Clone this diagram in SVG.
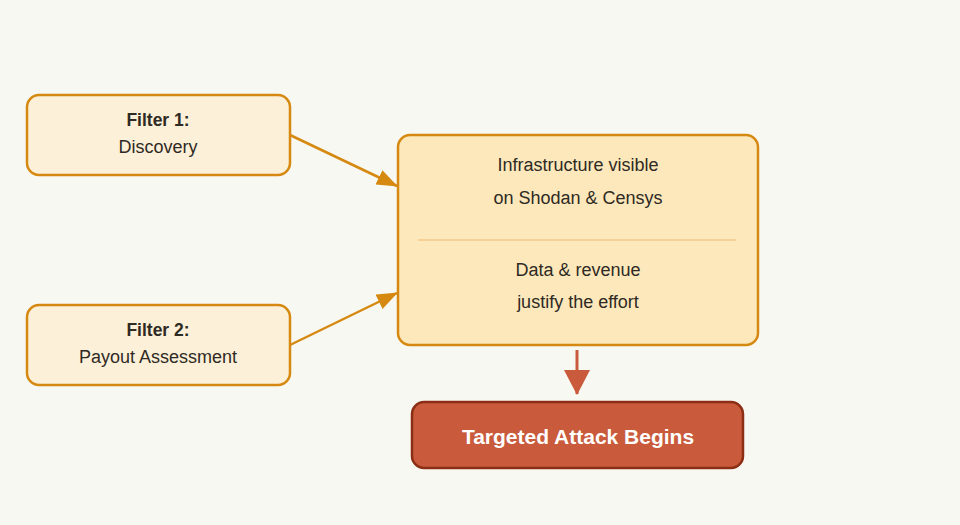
<svg xmlns="http://www.w3.org/2000/svg" width="960" height="525" viewBox="0 0 960 525">
<defs>
<marker id="ah" markerUnits="userSpaceOnUse" markerWidth="22" markerHeight="18" refX="20" refY="8" orient="auto">
<path d="M0,0 L21,8 L0,16 Z" fill="#d68910"/>
</marker>
<marker id="ahr" markerUnits="userSpaceOnUse" markerWidth="28" markerHeight="28" refX="24" refY="13" orient="auto">
<path d="M0,0 L25,13 L0,26 Z" fill="#c95a3c"/>
</marker>
</defs>
<style>
.t{font-family:"Liberation Sans",Arial,sans-serif;font-size:18px;fill:#2e2a24;text-anchor:middle}
.b{font-weight:bold;font-size:17.5px}
.filter{fill:#fdf0d8;stroke:#d68910;stroke-width:2.5}
.conn{stroke:#d68910;stroke-width:2.5;fill:none}
</style>
<rect width="960" height="525" fill="#f8f8f3"/>
<g id="connectors">
<line class="conn" x1="290" y1="135" x2="397" y2="186" marker-end="url(#ah)"/>
<line class="conn" x1="290" y1="345" x2="397" y2="293" marker-end="url(#ah)"/>
<line x1="577" y1="350" x2="577" y2="394" stroke="#c95a3c" stroke-width="3" marker-end="url(#ahr)"/>
</g>
<g id="filter1">
<rect class="filter" x="27" y="95" width="263" height="80" rx="12"/>
<text class="t b" x="158" y="126">Filter 1:</text>
<text class="t" x="158" y="153">Discovery</text>
</g>
<g id="filter2">
<rect class="filter" x="27" y="305" width="263" height="80" rx="12"/>
<text class="t b" x="158" y="336">Filter 2:</text>
<text class="t" x="158" y="363">Payout Assessment</text>
</g>
<g id="center">
<rect x="398" y="135" width="360" height="210" rx="12" fill="#fde8bb" stroke="#d68910" stroke-width="2.5"/>
<text class="t" x="578" y="171">Infrastructure visible</text>
<text class="t" x="578" y="204">on Shodan &amp; Censys</text>
<line x1="418" y1="240" x2="736" y2="240" stroke="#f5c98a" stroke-width="1.5"/>
<text class="t" x="578" y="276">Data &amp; revenue</text>
<text class="t" x="578" y="308">justify the effort</text>
</g>
<g id="attack">
<rect x="412" y="402" width="331" height="66" rx="12" fill="#c95a3c" stroke="#8b2e14" stroke-width="2.5"/>
<text class="t b" x="578" y="444" style="font-size:21px;fill:#ffffff">Targeted Attack Begins</text>
</g>
</svg>
